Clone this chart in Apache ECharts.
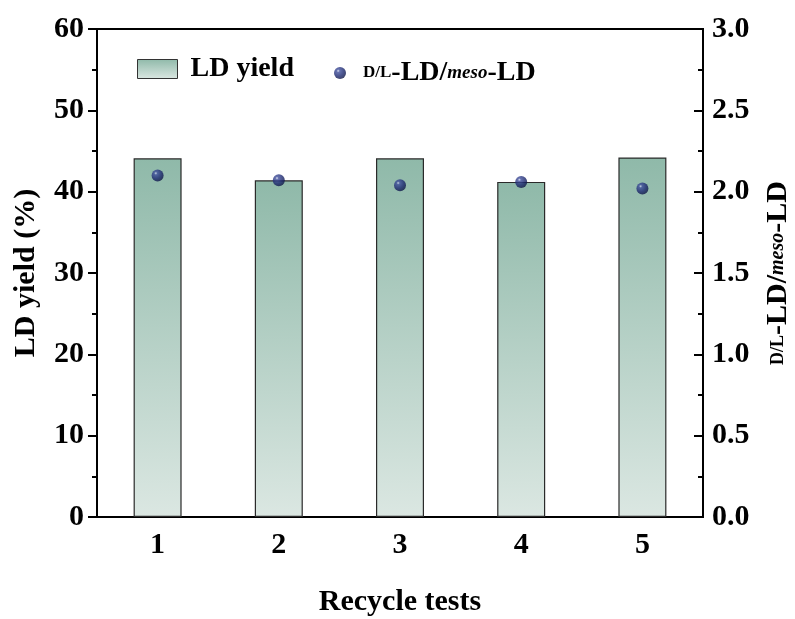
<!DOCTYPE html>
<html>
<head>
<meta charset="utf-8">
<script src="https://cdn.jsdelivr.net/npm/echarts@6/dist/echarts.min.js"></script>
<style>
  html, body { margin: 0; padding: 0; background: #fff; }
  #chart { width: 795px; height: 619px; }
</style>
</head>
<body>
<div id="chart"></div>
<script>
// Recycle runs and measured results
const runs = ['1', '2', '3', '4', '5'];
const ldYield = [44.1, 41.4, 44.1, 41.2, 44.2];       // LD yield, %
const dlMesoRatio = [2.10, 2.07, 2.04, 2.06, 2.02];   // D/L-LD / meso-LD ratio
const yieldTicks = { min: 0, max: 60, interval: 10 };
const ratioTicks = { min: 0, max: 3, interval: 0.5 };

const FONT = '"Liberation Serif", "Times New Roman", serif';
const fs = 30;

const barFill = new echarts.graphic.LinearGradient(0, 0, 0, 1, [
  { offset: 0, color: '#8fb9a9' },
  { offset: 1, color: '#dbe7e2' }
]);
const ballFill = new echarts.graphic.RadialGradient(0.35, 0.32, 0.75, [
  { offset: 0, color: '#d0d6ee' },
  { offset: 0.18, color: '#3e4d9a' },
  { offset: 0.6, color: '#1c2870' },
  { offset: 1, color: '#0c1340' }
]);

const ratioRich = {
  sc: { fontFamily: FONT, fontWeight: 'bold', fontSize: 18, color: '#000' },
  b: { fontFamily: FONT, fontWeight: 'bold', fontSize: fs, color: '#000' },
  it: { fontFamily: FONT, fontWeight: 'bold', fontStyle: 'italic', fontSize: 20, color: '#000' }
};
const legendRich = {
  sc: { fontFamily: FONT, fontWeight: 'bold', fontSize: 17, color: '#000' },
  b: { fontFamily: FONT, fontWeight: 'bold', fontSize: 28, color: '#000' },
  it: { fontFamily: FONT, fontWeight: 'bold', fontStyle: 'italic', fontSize: 19, color: '#000' }
};
const ratioName = '{sc|D/L}{b|-LD/}{it|meso}{b|-LD}';

const chart = echarts.init(document.getElementById('chart'), null, { renderer: 'canvas' });
chart.setOption({
  backgroundColor: '#fff',
  animation: false,
  grid: {
    left: 97, right: 92, top: 29, bottom: 102,
    outerBoundsMode: 'none', containLabel: false,
    show: true, borderColor: '#000', borderWidth: 2
  },
  legend: [
    {
      left: 132, top: 50, itemWidth: 40, itemHeight: 19, itemGap: 0,
      data: [{ name: 'LD yield', icon: 'rect', itemStyle: { color: barFill, borderColor: '#333', borderWidth: 1 } }],
      textStyle: { fontFamily: FONT, fontWeight: 'bold', fontSize: 28, color: '#000', padding: [0, 0, 0, 8] }
    },
    {
      left: 329, top: 54, itemWidth: 12, itemHeight: 12,
      data: [{ name: 'ratio', icon: 'circle' }],
      formatter: () => ratioName,
      textStyle: { rich: legendRich, padding: [0, 0, 0, 12] }
    }
  ],
  xAxis: {
    type: 'category',
    data: runs,
    name: 'Recycle tests',
    nameLocation: 'middle',
    nameGap: 70,
    nameTextStyle: { fontFamily: FONT, fontWeight: 'bold', fontSize: fs, color: '#000' },
    axisLine: { lineStyle: { color: '#000', width: 2 } },
    axisTick: { alignWithLabel: true, length: 9, lineStyle: { color: '#000', width: 2 } },
    axisLabel: { fontFamily: FONT, fontWeight: 'bold', fontSize: fs, color: '#000', margin: 13 }
  },
  yAxis: [
    {
      type: 'value',
      min: yieldTicks.min, max: yieldTicks.max, interval: yieldTicks.interval,
      name: 'LD yield (%)',
      nameLocation: 'middle',
      nameGap: 56,
      nameRotate: 90,
      nameTextStyle: { fontFamily: FONT, fontWeight: 'bold', fontSize: fs, color: '#000' },
      axisLine: { show: true, lineStyle: { color: '#000', width: 2 } },
      axisTick: { show: true, length: 9, lineStyle: { color: '#000', width: 2 } },
      minorTick: { show: true, splitNumber: 2, length: 5, lineStyle: { color: '#000', width: 2 } },
      axisLabel: { fontFamily: FONT, fontWeight: 'bold', fontSize: fs, color: '#000', margin: 13 },
      splitLine: { show: false }
    },
    {
      type: 'value',
      position: 'right',
      min: ratioTicks.min, max: ratioTicks.max, interval: ratioTicks.interval,
      name: ratioName,
      nameLocation: 'middle',
      nameGap: 60,
      nameRotate: 90,
      nameTextStyle: { rich: ratioRich },
      axisLine: { show: true, lineStyle: { color: '#000', width: 2 } },
      axisTick: { show: true, inside: true, length: 9, lineStyle: { color: '#000', width: 2 } },
      minorTick: { show: true, splitNumber: 2, length: 5, lineStyle: { color: '#000', width: 2 } },
      axisLabel: {
        fontFamily: FONT, fontWeight: 'bold', fontSize: fs, color: '#000', margin: 9,
        formatter: v => v.toFixed(1)
      },
      splitLine: { show: false }
    }
  ],
  series: [
    {
      name: 'LD yield',
      type: 'bar',
      yAxisIndex: 0,
      data: ldYield,
      barWidth: 48,
      itemStyle: { color: barFill, borderColor: '#2a2a2a', borderWidth: 1.2 }
    },
    {
      name: 'ratio',
      type: 'scatter',
      yAxisIndex: 1,
      data: dlMesoRatio,
      symbol: 'circle',
      symbolSize: 12,
      itemStyle: { color: ballFill },
      z: 5
    }
  ]
});
</script>
</body>
</html>
